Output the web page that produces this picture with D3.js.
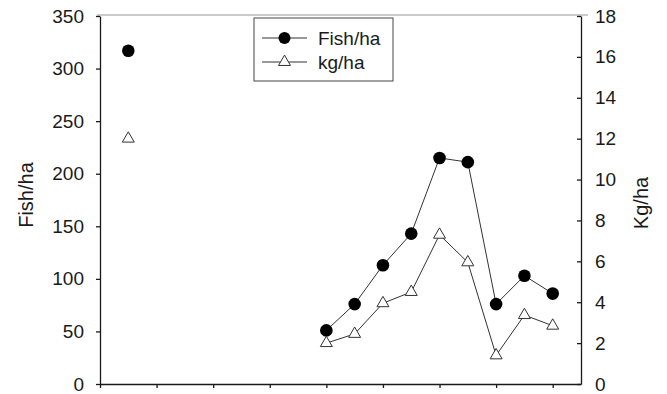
<!DOCTYPE html>
<html lang="en">
  <head>
    <meta charset="utf-8">
    <title>Fish/ha and kg/ha</title>
    <script src="https://d3js.org/d3.v7.min.js"></script>
    <style>
      body { margin: 0; background: #fff; }
      svg { display: block; }
      text { font-family: "Liberation Sans", Arial, sans-serif; fill: #1a1a1a; }
      .axis path, .axis line { stroke: #1a1a1a; stroke-width: 1.3px; }
      .axis text { font-size: 19px; }
      .series { fill: none; stroke: #333; stroke-width: 1px; }
    </style>
  </head>
  <body>
    <script>
      // sampling positions along the x axis (no labels on that axis)
      var xs = [1, 2, 3, 4, 5, 6, 7, 8, 9, 10, 11, 12, 13, 14, 15, 16];
      // fish per hectare (left axis), null = no sample
      var fish = [317, null, null, null, null, null, null, 51, 76, 113, 143, 215, 211, 76, 103, 86];
      // kg per hectare (right axis)
      var kg = [12.0, null, null, null, null, null, null, 2.0, 2.45, 3.95, 4.5, 7.3, 5.95, 1.4, 3.37, 2.85];
      var xTicks = [0, 2, 4, 6, 8, 10, 12, 14, 16];
      var fishTicks = [0, 50, 100, 150, 200, 250, 300, 350];
      var kgTicks = [0, 2, 4, 6, 8, 10, 12, 14, 16, 18];

      var width = 667, height = 394;
      var svg = d3.select('body').append('svg')
        .attr('width', width)
        .attr('height', height);

      var x = d3.scaleLinear().domain([0, 17]).range([100, 581]);
      var yL = d3.scaleLinear().domain([0, 350]).range([384, 16]);
      var yR = d3.scaleLinear().domain([0, 18]).range([384, 16]);

      // light frame line along the top
      svg.append('line')
        .attr('x1', 97).attr('x2', 588)
        .attr('y1', 15).attr('y2', 15)
        .attr('stroke', '#999').attr('stroke-width', 1);

      // axes
      svg.append('g').attr('class', 'axis')
        .attr('transform', 'translate(0,384)')
        .call(d3.axisBottom(x).tickValues(xTicks).tickSize(4).tickSizeOuter(0).tickFormat(''));

      var gl = svg.append('g').attr('class', 'axis')
        .attr('transform', 'translate(100,0)')
        .call(d3.axisLeft(yL).tickValues(fishTicks).tickSize(4).tickSizeOuter(0).tickPadding(12));

      var gr = svg.append('g').attr('class', 'axis')
        .attr('transform', 'translate(581,0)')
        .call(d3.axisRight(yR).tickValues(kgTicks).tickSize(-4).tickSizeOuter(0).tickPadding(14));

      // axis titles
      svg.append('text')
        .attr('transform', 'translate(33,195) rotate(-90)')
        .attr('text-anchor', 'middle')
        .style('font-size', '20px')
        .text('Fish/ha');

      svg.append('text')
        .attr('transform', 'translate(648,203) rotate(-90)')
        .attr('text-anchor', 'middle')
        .style('font-size', '20px')
        .text('Kg/ha');

      var fishPts = xs.map(function(d, i) { return { x: d, v: fish[i] }; });
      var kgPts = xs.map(function(d, i) { return { x: d, v: kg[i] }; });

      var lineL = d3.line()
        .defined(function(d) { return d.v !== null; })
        .x(function(d) { return x(d.x); })
        .y(function(d) { return yL(d.v); });
      var lineR = d3.line()
        .defined(function(d) { return d.v !== null; })
        .x(function(d) { return x(d.x); })
        .y(function(d) { return yR(d.v); });

      svg.append('path').attr('class', 'series').attr('d', lineL(fishPts));
      svg.append('path').attr('class', 'series').attr('d', lineR(kgPts));

      var tri = d3.symbol().type(d3.symbolTriangle).size(62);

      svg.selectAll('.fishDot')
        .data(fishPts.filter(function(d) { return d.v !== null; }))
        .enter().append('circle')
        .attr('cx', function(d) { return x(d.x); })
        .attr('cy', function(d) { return yL(d.v); })
        .attr('r', 6.3)
        .attr('fill', '#000');

      svg.selectAll('.kgTri')
        .data(kgPts.filter(function(d) { return d.v !== null; }))
        .enter().append('path')
        .attr('d', tri)
        .attr('transform', function(d) { return 'translate(' + x(d.x) + ',' + yR(d.v) + ')'; })
        .attr('fill', '#fff')
        .attr('stroke', '#333')
        .attr('stroke-width', 1);

      // legend
      var lg = svg.append('g');
      lg.append('rect')
        .attr('x', 254).attr('y', 18)
        .attr('width', 139).attr('height', 63)
        .attr('fill', '#fff').attr('stroke', '#444').attr('stroke-width', 1);
      var items = [
        { label: 'Fish/ha', y: 38, kind: 'circle' },
        { label: 'kg/ha', y: 62, kind: 'tri' }
      ];
      items.forEach(function(it) {
        lg.append('line')
          .attr('x1', 262).attr('x2', 307)
          .attr('y1', it.y).attr('y2', it.y)
          .attr('stroke', '#333').attr('stroke-width', 1);
        if (it.kind === 'circle') {
          lg.append('circle').attr('cx', 284.5).attr('cy', it.y).attr('r', 6).attr('fill', '#000');
        } else {
          lg.append('path').attr('d', tri)
            .attr('transform', 'translate(284.5,' + it.y + ')')
            .attr('fill', '#fff').attr('stroke', '#333');
        }
        lg.append('text')
          .attr('x', 318).attr('y', it.y)
          .attr('dy', '0.35em')
          .style('font-size', '19px')
          .text(it.label);
      });
    </script>
  </body>
</html>
